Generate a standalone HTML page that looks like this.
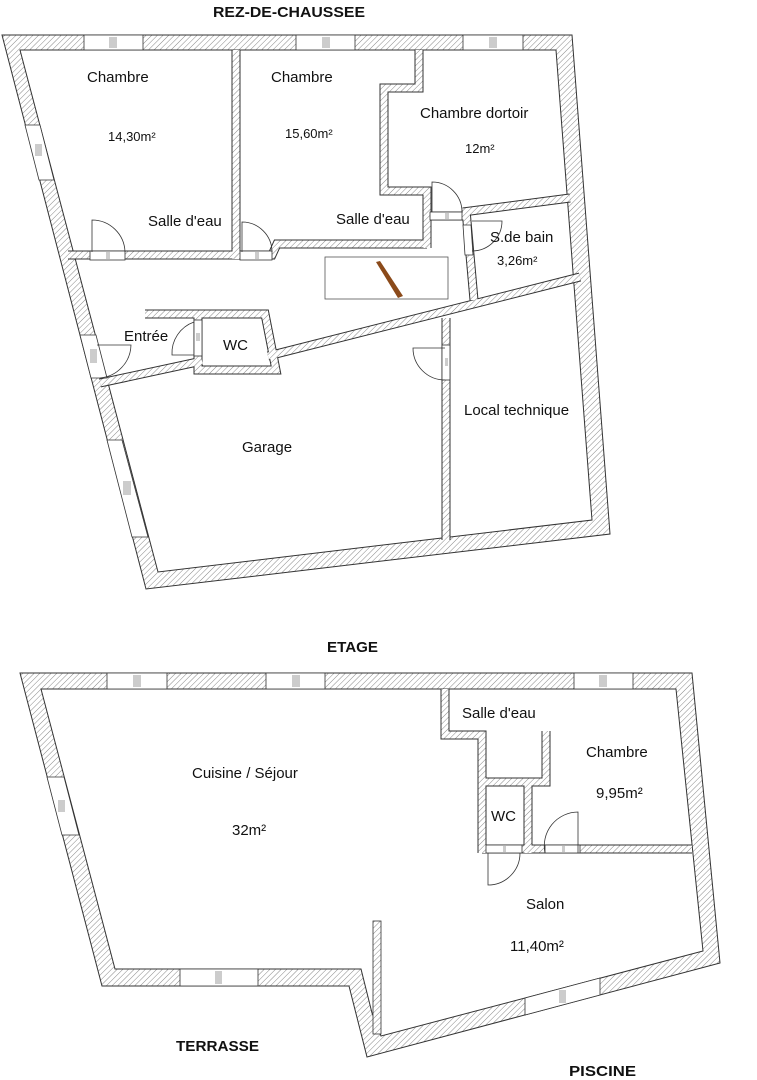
<!DOCTYPE html>
<html><head><meta charset="utf-8"><style>
html,body{margin:0;padding:0;background:#fff;}
svg{display:block;}
text{font-family:"Liberation Sans","DejaVu Sans",sans-serif;fill:#111;}
.l{font-size:15px;}
.t{font-size:15px;font-weight:bold;}
</style></head><body>
<svg width="757" height="1080" viewBox="0 0 757 1080" xmlns="http://www.w3.org/2000/svg">
<defs>
<pattern id="h" patternUnits="userSpaceOnUse" width="4" height="4" patternTransform="rotate(45)">
<rect width="4" height="4" fill="#fff"/><line x1="0" y1="0" x2="0" y2="4" stroke="#888" stroke-width="1"/>
</pattern>
</defs>

<!-- ============ GROUND FLOOR ============ -->
<path d="M2,35 L572,35 L610,534 L146,589 Z M20,50 L556,50 L592,520 L158,572 Z" fill="url(#h)" fill-rule="evenodd" stroke="#333" stroke-width="1"/>

<g fill="none" stroke-linejoin="miter">
<g stroke="#333" stroke-width="9">
<polyline points="236,50 236,259"/>
<polyline points="68,255 240,255"/>
<polyline points="236,255 272,255 277,244 427,244"/>
<polyline points="419,50 419,88 384,88 384,191 427,191 427,248"/>
<polyline points="427,216 466,216"/>
<polyline points="463,212 570,198"/>
<polyline points="466,210 474,300"/>
<polyline points="268,356 580,277"/>
<polyline points="446,318 446,540"/>
<polyline points="100,383 202,361"/>
<polyline points="145,314 265,314 276,370 198,370 198,314"/>
</g>
<g stroke="url(#h)" stroke-width="7">
<polyline points="236,50 236,259"/>
<polyline points="68,255 240,255"/>
<polyline points="236,255 272,255 277,244 427,244"/>
<polyline points="419,50 419,88 384,88 384,191 427,191 427,248"/>
<polyline points="427,216 466,216"/>
<polyline points="463,212 570,198"/>
<polyline points="466,210 474,300"/>
<polyline points="268,356 580,277"/>
<polyline points="446,318 446,540"/>
<polyline points="100,383 202,361"/>
<polyline points="145,314 265,314 276,370 198,370 198,314"/>
</g>
</g>

<!-- windows / door frames ground -->
<g fill="#fff" stroke="#333" stroke-width="0.8">
<rect x="84" y="35" width="59" height="15"/>
<rect x="296" y="35" width="59" height="15"/>
<rect x="463" y="35" width="60" height="15"/>
<polygon points="25,125 40,125 54,180 39,180"/>
<polygon points="107,440 122,440 148,537 132,537"/>
<polygon points="80,335 96,335 107,378 91,378"/>
<rect x="90" y="251" width="35" height="9"/>
<rect x="240" y="251" width="32" height="9"/>
<rect x="430" y="212" width="32" height="8"/>
<rect x="194" y="320" width="8" height="36"/>
<polygon points="463,225 471,225 473,255 465,255"/>
<rect x="442" y="345" width="8" height="35"/>
</g>
<g fill="#ccc">
<rect x="109" y="37" width="8" height="11"/>
<rect x="322" y="37" width="8" height="11"/>
<rect x="489" y="37" width="8" height="11"/>
<rect x="35" y="144" width="7" height="12"/>
<rect x="123" y="481" width="8" height="14"/>
<rect x="90" y="349" width="7" height="14"/>
<rect x="106" y="252" width="4" height="7"/>
<rect x="255" y="252" width="4" height="7"/>
<rect x="445" y="213" width="4" height="6"/>
<rect x="196" y="333" width="4" height="8"/>
<rect x="445" y="358" width="3" height="8"/>
</g>

<!-- doors ground -->
<g fill="none" stroke="#333" stroke-width="0.8">
<path d="M92,252 L92,220 A33,33 0 0 1 125,252"/>
<path d="M242,252 L242,222 A30,30 0 0 1 272,252"/>
<path d="M432,212 L432,182 A30,30 0 0 1 462,212"/>
<path d="M472,221 L502,221 A30,30 0 0 1 472,251"/>
<path d="M97,345 L131,345 A34,34 0 0 1 100,378"/>
<path d="M194,322 A33,33 0 0 0 172,355 L194,355"/>
<path d="M445,348 L413,348 A32,32 0 0 0 445,380"/>
</g>

<!-- stairs -->
<rect x="325" y="257" width="123" height="42" fill="#fff" stroke="#555" stroke-width="0.8"/>
<polygon points="376,262 380,261 403,296 398,298" fill="#8b4a1a"/>

<!-- ground labels -->
<text x="213" y="17" class="t" textLength="152" lengthAdjust="spacingAndGlyphs">REZ-DE-CHAUSSEE</text>
<text x="87" y="82" class="l">Chambre</text>
<text x="108" y="141" class="l" font-size="13" style="font-size:13px">14,30m²</text>
<text x="148" y="226" class="l">Salle d'eau</text>
<text x="271" y="82" class="l">Chambre</text>
<text x="285" y="138" class="l" style="font-size:13px">15,60m²</text>
<text x="420" y="118" class="l">Chambre dortoir</text>
<text x="465" y="153" class="l" style="font-size:13px">12m²</text>
<text x="336" y="224" class="l">Salle d'eau</text>
<text x="490" y="242" class="l">S.de bain</text>
<text x="497" y="265" class="l" style="font-size:13px">3,26m²</text>
<text x="124" y="341" class="l">Entrée</text>
<text x="223" y="350" class="l">WC</text>
<text x="464" y="415" class="l">Local technique</text>
<text x="242" y="452" class="l">Garage</text>

<!-- ============ UPPER FLOOR ============ -->
<path d="M20,673 L692,673 L720,963 L367,1057 L349,986 L102,986 Z M41,689 L676,689 L703,951 L381,1036 L372,1013 L361,969 L115,969 Z" fill="url(#h)" fill-rule="evenodd" stroke="#333" stroke-width="1"/>
<rect x="373" y="921" width="8" height="113" fill="url(#h)" stroke="#333" stroke-width="0.8"/>

<g fill="none">
<g stroke="#333" stroke-width="9">
<polyline points="445,689 445,735 482,735 482,853"/>
<polyline points="482,849 692,849"/>
<polyline points="546,731 546,782 482,782"/>
<polyline points="528,782 528,853"/>
</g>
<g stroke="url(#h)" stroke-width="7">
<polyline points="445,689 445,735 482,735 482,853"/>
<polyline points="482,849 692,849"/>
<polyline points="546,731 546,782 482,782"/>
<polyline points="528,782 528,853"/>
</g>
</g>

<g fill="#fff" stroke="#333" stroke-width="0.8">
<rect x="107" y="673" width="60" height="16"/>
<rect x="266" y="673" width="59" height="16"/>
<rect x="574" y="673" width="59" height="16"/>
<polygon points="47,777 64,777 79,835 62,835"/>
<rect x="180" y="969" width="78" height="17"/>
<polygon points="525,1015 525,998 600,978 600,995"/>
<rect x="486" y="845" width="36" height="8"/>
<rect x="545" y="845" width="35" height="8"/>
</g>
<g fill="#ccc">
<rect x="133" y="675" width="8" height="12"/>
<rect x="292" y="675" width="8" height="12"/>
<rect x="599" y="675" width="8" height="12"/>
<rect x="58" y="800" width="7" height="12"/>
<rect x="215" y="971" width="7" height="13"/>
<rect x="559" y="990" width="7" height="13"/>
<rect x="503" y="846" width="3" height="6"/>
<rect x="562" y="846" width="3" height="6"/>
</g>

<g fill="none" stroke="#333" stroke-width="0.8">
<path d="M488,853 L488,885 A32,32 0 0 0 520,853"/>
<path d="M578,853 L578,812 A34,34 0 0 0 545,853"/>
</g>

<text x="327" y="652" class="t" textLength="51" lengthAdjust="spacingAndGlyphs">ETAGE</text>
<text x="192" y="778" class="l">Cuisine / Séjour</text>
<text x="232" y="835" class="l">32m²</text>
<text x="462" y="718" class="l">Salle d'eau</text>
<text x="586" y="757" class="l">Chambre</text>
<text x="596" y="798" class="l">9,95m²</text>
<text x="491" y="821" class="l">WC</text>
<text x="526" y="909" class="l">Salon</text>
<text x="510" y="951" class="l">11,40m²</text>
<text x="176" y="1051" class="t" textLength="83" lengthAdjust="spacingAndGlyphs">TERRASSE</text>
<text x="569" y="1076" class="t" textLength="67" lengthAdjust="spacingAndGlyphs">PISCINE</text>
</svg>
</body></html>
